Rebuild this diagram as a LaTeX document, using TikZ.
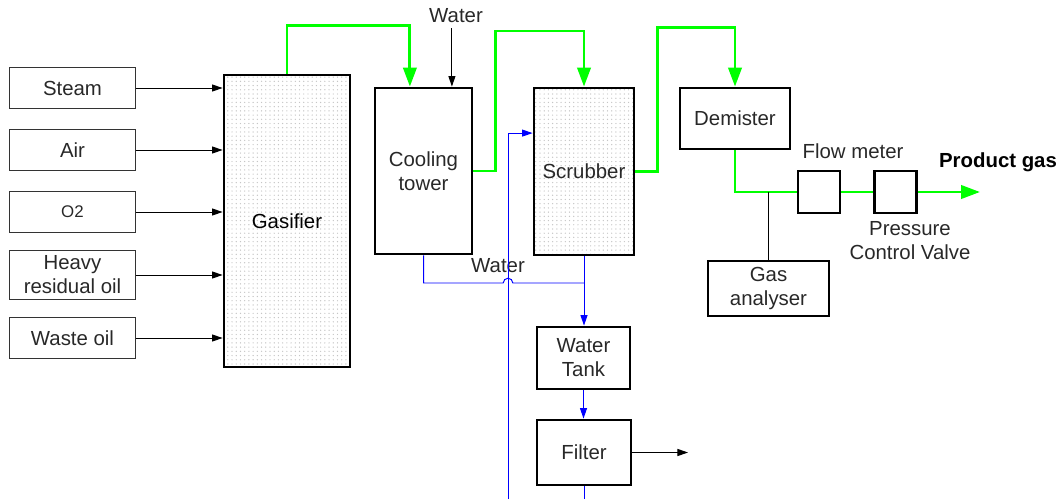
\documentclass[tikz,border=0pt]{standalone}
\usepackage{fontspec}
\setmainfont{Liberation Sans}
\usetikzlibrary{arrows.meta, positioning, calc, patterns}
\definecolor{gasgreen}{RGB}{0, 255, 0}
\definecolor{waterblue}{RGB}{0, 0, 255}
\definecolor{labelgray}{RGB}{40, 40, 40}

\begin{document}
\begin{tikzpicture}[
        x=0.025cm, y=-0.025cm,
        font=\fontsize{14.5}{17}\selectfont, text=labelgray,
        feed/.style={rectangle, draw=black!80, line width=0.7pt,
                     minimum width=31.25mm, minimum height=10.25mm,
                     align=center, inner sep=1pt},
        unit/.style={rectangle, draw, line width=2pt, align=center, inner sep=1pt},
        packed/.style={unit, pattern=dots, pattern color=gray!45},
        small/.style={unit, minimum width=10.5mm, minimum height=10.5mm},
        arrow/.style={-{Triangle[width=5pt,length=7.5pt]}, line width=0.7pt},
        gas/.style={-{Triangle[width=9.5pt,length=13.5pt]}, line width=2pt, gasgreen},
        gasline/.style={line width=2pt, gasgreen},
        water/.style={line width=0.7pt, waterblue},
        waterarrow/.style={water, -{Triangle[width=5pt,length=7.5pt]}},
    ]
        \useasboundingbox (0,0) rectangle (1062,499);

        % feed streams
        \node[feed] (steam) at (72.5,88) {Steam};
        \node[feed] (air) at (72.5,150) {Air};
        \node[feed] (o2) at (72.5,212) {\fontsize{12}{14}\selectfont O2};
        \node[feed, minimum height=12.25mm] (heavy) at (72.5,275) {Heavy\\residual oil};
        \node[feed] (waste) at (72.5,338) {Waste oil};

        % main units
        \node[packed, minimum width=31.5mm, minimum height=73mm, text=black] (gasifier) at (287,221) {Gasifier};
        \node[unit, minimum width=24.25mm, minimum height=41.5mm] (cooling) at (423.5,171) {Cooling\\tower};
        \node[packed, minimum width=25mm, minimum height=41.75mm] (scrubber) at (584,171.5) {Scrubber};
        \node[unit, minimum width=27.5mm, minimum height=15.25mm] (demister) at (735,118.5) {Demister};
        \node[small] (flow) at (819,192) {};
        \node[small] (pcv) at (895.5,192) {};
        \node[unit, line width=1.6pt, minimum width=30.25mm, minimum height=13.75mm] (gasan) at (768.5,288.5) {Gas\\analyser};
        \node[unit, minimum width=23.25mm, minimum height=15.5mm] (tank) at (583.5,358) {Water\\Tank};
        \node[unit, minimum width=23.5mm, minimum height=16.25mm] (filter) at (584,452.5) {Filter};

        % labels
        \node (watertop) at (456,16) {Water};
        \node (waterlbl) at (498,266) {Water};
        \node (flowlbl) at (853,151) {Flow meter};
        \node[align=center] (pcvlbl) at (910,241) {Pressure\\Control Valve};
        \node[font=\fontsize{14.5}{17}\selectfont\bfseries, text=black] (product) at (998,162) {Product gas};

        \coordinate (gasout) at (980,192);
        \coordinate (hop) at (508,283);
        \coordinate (recycle) at (508,499);
        \coordinate (drain) at (584,499);
        \coordinate (solids) at (688,452.5);

        % feeds into gasifier
        \foreach \n in {steam, air, o2, heavy, waste}
            \draw[arrow] (\n.east) -- (\n.east -| gasifier.west);

        % gas path
        \draw[gas] (gasifier.north) -- ++(0,12mm) -| ([xshift=-3.4mm]cooling.north);
        \draw[gas] (cooling.east) -| ++(5.5mm,35mm) -| (scrubber.north);
        \draw[gas] (scrubber.east) -| ++(5.5mm,36mm) -| (demister.north);
        \draw[gasline] (demister.south) |- (flow.west);
        \draw[gasline] (flow.east) -- (pcv.west);
        \draw[gas] (pcv.east) -- (gasout);
        \draw[line width=0.7pt] (gasan.north) -- (gasan.north |- flow.west);

        % water path
        \draw[arrow] ([xshift=7.1mm]cooling.north |- watertop.south) -- ([xshift=7.1mm]cooling.north);
        \draw[water] (cooling.south) |- ([xshift=-1.2mm]hop) arc(180:0:1.2mm) -- (scrubber.south |- hop);
        \draw[waterarrow] (scrubber.south) -- (scrubber.south |- tank.north);
        \draw[waterarrow] (tank.south) -- (tank.south |- filter.north);
        \draw[water] (filter.south) -- (drain);
        \draw[waterarrow] (recycle) |- ([yshift=9.6mm]scrubber.west);
        \draw[arrow] (filter.east) -- (solids);

    \end{tikzpicture}
\end{document}
